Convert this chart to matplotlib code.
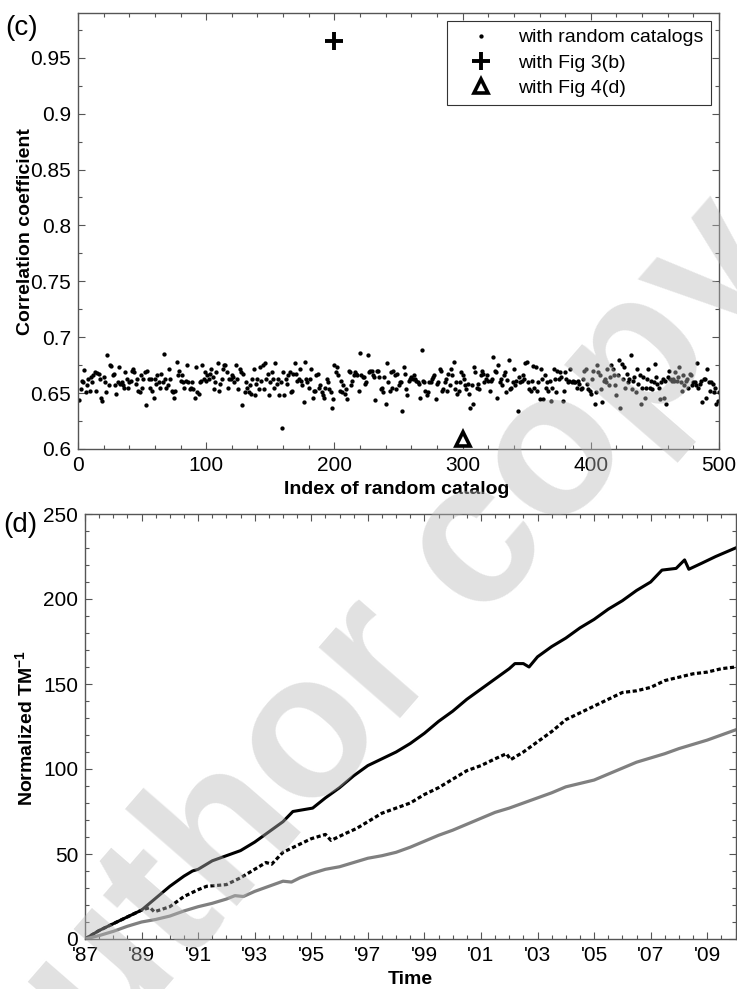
import numpy as np
import matplotlib.pyplot as plt
from matplotlib.ticker import MultipleLocator, FuncFormatter

plt.rcParams['font.family'] = ['Liberation Sans', 'DejaVu Sans']
plt.rcParams['mathtext.default'] = 'regular'

# correlation coefficient of each random catalog (index 1..500)
corr_random = [
    .644, .654, .661, .660, .671, .651, .657, .663, .652, .664, .660, .666, .669, .652, .668, .667, .663, .646, .643, .664,
    .660, .651, .684, .657, .675, .674, .666, .667, .657, .649, .660, .673, .658, .660, .657, .655, .669, .663, .655, .660,
    .661, .670, .672, .669, .658, .663, .652, .651, .666, .655, .663, .669, .639, .670, .663, .655, .663, .652, .646, .663,
    .658, .666, .660, .655, .667, .660, .685, .663, .655, .657, .672, .663, .652, .651, .646, .652, .678, .666, .670, .661,
    .666, .660, .655, .661, .675, .660, .654, .655, .660, .654, .646, .673, .651, .649, .660, .661, .675, .663, .669, .661,
    .666, .663, .667, .672, .664, .654, .660, .669, .677, .652, .658, .663, .672, .675, .675, .669, .655, .663, .663, .666,
    .664, .660, .675, .663, .654, .672, .669, .639, .667, .651, .660, .655, .651, .657, .649, .663, .672, .648, .658, .663,
    .654, .673, .661, .675, .654, .677, .663, .667, .648, .660, .669, .663, .655, .677, .658, .663, .648, .660, .619, .669,
    .648, .663, .658, .666, .669, .651, .652, .667, .677, .667, .661, .663, .672, .661, .657, .642, .678, .663, .660, .655,
    .663, .672, .646, .652, .652, .666, .667, .655, .657, .651, .648, .646, .655, .663, .660, .654, .651, .637, .645, .675,
    .669, .673, .666, .652, .661, .651, .657, .649, .654, .645, .670, .669, .657, .661, .666, .669, .667, .666, .652, .686,
    .666, .664, .664, .658, .660, .684, .669, .670, .670, .666, .664, .644, .670, .670, .664, .654, .655, .651, .664, .640,
    .677, .660, .652, .669, .655, .670, .666, .654, .667, .657, .660, .660, .634, .673, .667, .654, .648, .661, .663, .664,
    .663, .666, .663, .661, .660, .658, .646, .689, .661, .660, .652, .648, .651, .660, .660, .663, .664, .666, .645, .658,
    .660, .672, .670, .652, .654, .660, .663, .652, .667, .657, .672, .666, .678, .654, .660, .649, .652, .660, .669, .666,
    .663, .657, .654, .658, .649, .637, .657, .640, .673, .669, .655, .658, .654, .666, .670, .667, .660, .663, .666, .661,
    .652, .661, .663, .682, .670, .669, .646, .675, .660, .663, .657, .666, .669, .651, .662, .680, .654, .655, .660, .672,
    .657, .661, .634, .664, .660, .661, .666, .663, .677, .678, .660, .654, .652, .661, .674, .655, .673, .652, .660, .645,
    .672, .663, .645, .666, .655, .660, .652, .661, .643, .655, .672, .663, .651, .670, .663, .669, .664, .643, .652, .669,
    .663, .660, .661, .672, .660, .661, .660, .660, .655, .661, .658, .654, .655, .663, .670, .672, .658, .654, .652, .649,
    .663, .670, .640, .651, .675, .669, .666, .654, .642, .661, .663, .660, .672, .657, .664, .675, .672, .666, .657, .648,
    .666, .680, .637, .676, .663, .673, .655, .667, .660, .663, .684, .654, .661, .664, .651, .672, .658, .666, .640, .655,
    .664, .646, .655, .663, .672, .655, .661, .654, .660, .676, .664, .658, .655, .645, .660, .663, .646, .661, .640, .664,
    .670, .663, .661, .663, .661, .669, .661, .664, .673, .660, .652, .666, .657, .661, .663, .655, .667, .666, .657, .660,
    .660, .657, .677, .655, .658, .661, .642, .663, .663, .646, .672, .660, .652, .660, .658, .651, .655, .640, .643, .651,
]
catalog_index = np.arange(1, len(corr_random) + 1)

fig3b_index = [200]
fig3b_corr = [0.965]
fig4d_index = [300]
fig4d_corr = [0.609]

# normalized TM^-1 curves (decimal year, value)
year_solid = [1987.0, 1987.5, 1988.0, 1988.5, 1989.0, 1989.5, 1990.0, 1990.5, 1990.8, 1991.0, 1991.5, 1992.0,
              1992.5, 1993.0, 1993.5, 1994.0, 1994.35, 1994.7, 1995.05, 1995.5, 1996.0, 1996.5, 1997.0, 1997.5,
              1998.0, 1998.5, 1999.0, 1999.5, 2000.0, 2000.5, 2001.0, 2001.5, 2002.0, 2002.2, 2002.5, 2002.7,
              2003.0, 2003.5, 2004.0, 2004.5, 2005.0, 2005.5, 2006.0, 2006.5, 2007.0, 2007.4, 2007.9, 2008.2,
              2008.35, 2008.8, 2009.3, 2010.0]
tm_solid = [0, 5, 9, 13, 17, 24, 31, 37, 40, 41, 46, 49,
            52, 57, 63, 69, 75, 76, 77, 83, 89, 96, 102, 106,
            110, 115, 121, 128, 134, 141, 147, 153, 159, 162, 162, 160,
            166, 172, 177, 183, 188, 194, 199, 205, 210, 217, 218, 223,
            217.5, 221, 225, 230]

year_dashed = [1987.0, 1987.5, 1988.0, 1988.5, 1989.0, 1989.3, 1989.45, 1990.0, 1990.5, 1991.0, 1991.3, 1992.0,
               1992.5, 1993.0, 1993.4, 1993.6, 1994.0, 1994.5, 1995.0, 1995.5, 1995.7, 1996.2, 1996.6, 1997.0,
               1997.5, 1998.0, 1998.5, 1999.0, 1999.5, 2000.0, 2000.5, 2001.0, 2001.5, 2001.9, 2002.05, 2002.5,
               2003.0, 2003.5, 2004.0, 2004.5, 2005.0, 2005.5, 2006.0, 2006.5, 2007.0, 2007.5, 2008.0, 2008.5,
               2009.0, 2009.5, 2010.0]
tm_dashed = [0, 5, 9, 13, 17, 18.5, 16, 19, 25, 29, 31, 32,
             36, 41, 45, 44, 51, 55, 59, 61.5, 58, 62, 65, 69,
             74, 77, 80, 85, 89, 94, 99, 102, 106, 109, 105.5, 110,
             116, 122, 129, 133, 137, 141, 145, 146, 148, 152, 154, 156,
             157, 159, 160]

year_gray = [1987.0, 1987.5, 1988.0, 1988.5, 1989.0, 1989.5, 1990.0, 1990.5, 1991.0, 1991.5, 1992.0, 1992.3,
             1992.6, 1993.0, 1993.5, 1994.0, 1994.3, 1994.6, 1995.0, 1995.5, 1996.0, 1996.5, 1997.0, 1997.5,
             1998.0, 1998.5, 1999.0, 1999.5, 2000.0, 2000.5, 2001.0, 2001.5, 2002.0, 2002.5, 2003.0, 2003.5,
             2004.0, 2004.5, 2005.0, 2005.5, 2006.0, 2006.5, 2007.0, 2007.5, 2008.0, 2008.5, 2009.0, 2009.5,
             2010.0]
tm_gray = [0, 2, 4.5, 7.5, 10, 11.5, 13.5, 16.5, 19, 21, 23.5, 25.5,
           25, 28, 31, 34, 33.5, 36, 38.5, 41, 42.5, 45, 47.5, 49,
           51, 54, 57.5, 61, 64, 67.5, 71, 74.5, 77, 80, 83, 86,
           89.5, 91.5, 93.5, 97, 100.5, 104, 106.5, 109, 112, 114.5, 117, 120,
           123]

year_ticks = [1987, 1989, 1991, 1993, 1995, 1997, 1999, 2001, 2003, 2005, 2007, 2009]
year_labels = ["'87", "'89", "'91", "'93", "'95", "'97", "'99", "'01", "'03", "'05", "'07", "'09"]

W, H = 737, 989
fig = plt.figure(figsize=(W / 100, H / 100), dpi=100)


def box(left, top, right, bottom):
    return [left / W, 1 - bottom / H, (right - left) / W, (bottom - top) / H]


def style_axes(ax):
    for sp in ax.spines.values():
        sp.set_color('#555555')
        sp.set_linewidth(1.0)
    ax.tick_params(which='both', direction='in', top=True, right=True,
                   color='#555555', width=0.8, labelsize=15, pad=5)
    ax.tick_params(which='major', length=5)
    ax.tick_params(which='minor', length=3)


# (c) correlation of each random catalog
ax1 = fig.add_axes(box(78, 13, 719, 449))
ax1.plot(catalog_index, corr_random, 'o', color='black', ms=3.1, mew=0,
         label='with random catalogs')
ax1.plot(fig3b_index, fig3b_corr, '+', color='black', ms=13, mew=2.8,
         label='with Fig 3(b)')
ax1.plot(fig4d_index, fig4d_corr, '^', mfc='white', mec='black', ms=10.5, mew=2.6,
         label='with Fig 4(d)')
ax1.set_xlim(0, 500)
ax1.set_ylim(0.6, 0.99)
ax1.xaxis.set_major_locator(MultipleLocator(100))
ax1.xaxis.set_minor_locator(MultipleLocator(20))
ax1.yaxis.set_major_locator(MultipleLocator(0.05))
ax1.yaxis.set_minor_locator(MultipleLocator(0.025))
ax1.yaxis.set_major_formatter(FuncFormatter(lambda v, p: '%g' % round(v, 3)))
style_axes(ax1)
leg = ax1.legend(loc='upper right', bbox_to_anchor=(0.9875, 0.9817), fontsize=14,
                 frameon=True, fancybox=False, edgecolor='#333333', framealpha=1,
                 borderpad=0.4, labelspacing=0.4, handletextpad=0.56, handlelength=2.7,
                 borderaxespad=0)
leg.get_frame().set_linewidth(0.8)

# (d) normalized TM^-1 over time
ax2 = fig.add_axes(box(85, 514, 735.5, 939))
ax2.plot(year_solid, tm_solid, '-', color='black', lw=2.2)
ax2.plot(year_dashed, tm_dashed, color='black', lw=2.3, linestyle=(0, (1.3, 0.8)))
ax2.plot(year_gray, tm_gray, '-', color='#808080', lw=2.3)
ax2.set_xlim(1987, 2010)
ax2.set_ylim(0, 250)
ax2.set_xticks(year_ticks)
ax2.set_xticklabels(year_labels)
ax2.xaxis.set_minor_locator(MultipleLocator(0.5))
ax2.yaxis.set_major_locator(MultipleLocator(50))
ax2.yaxis.set_minor_locator(MultipleLocator(10))
style_axes(ax2)

# axis titles and panel tags
fig.text(26 / W, 1 - 232 / H, 'Correlation coefficient', rotation=90, ha='center', va='center',
         fontsize=14, fontweight='bold')
fig.text(397 / W, 1 - 490 / H, 'Index of random catalog', ha='center', va='center',
         fontsize=14, fontweight='bold')
fig.text(25 / W, 1 - 728 / H, 'Normalized TM$^{-1}$', rotation=90, ha='center', va='center',
         fontsize=14, fontweight='bold')
fig.text(410 / W, 1 - 980 / H, 'Time', ha='center', va='center', fontsize=14, fontweight='bold')
fig.text(5 / W, 1 - 28 / H, '(c)', ha='left', va='center', fontsize=20)
fig.text(3 / W, 1 - 525 / H, '(d)', ha='left', va='center', fontsize=20)

# diagonal stamp across the page
fig.text(371 / W, 1 - 672 / H, 'author copy', rotation=49, ha='center', va='center',
         fontsize=147, fontweight='bold', color='#b8b8b8', alpha=0.42, zorder=10)

fig.savefig('out.png', dpi=100)
